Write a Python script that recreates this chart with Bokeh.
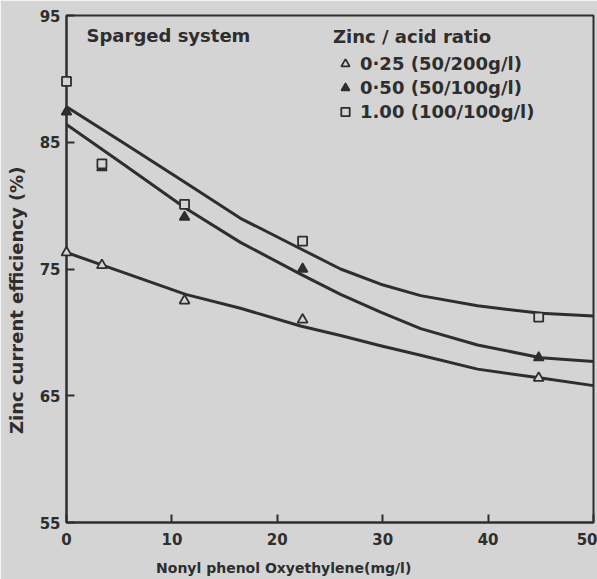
from bokeh.plotting import figure
from bokeh.models import Range1d, FixedTicker, Label, Legend, LegendItem
from bokeh.embed import file_html
from bokeh.resources import INLINE

# Measured points: Nonyl phenol Oxyethylene (mg/l) vs zinc current efficiency (%)
conc = [0, 3.36, 11.2, 22.4, 44.8]
eff_025 = [76.3, 75.3, 72.5, 71.0, 66.4]
eff_050 = [87.4, 83.0, 79.1, 75.0, 68.0]
eff_100 = [89.8, 83.3, 80.1, 77.2, 71.2]

# Fitted curves
curve_x = [0, 5.5, 11.3, 16.5, 22.2, 26.0, 29.8, 33.6, 39.0, 45.0, 50]
curve_025 = [76.3, 74.7, 73.0, 71.9, 70.5, 69.75, 68.95, 68.2, 67.1, 66.4, 65.8]
curve_050 = [86.4, 83.2, 79.8, 77.1, 74.6, 73.0, 71.6, 70.3, 69.0, 68.0, 67.7]
curve_100 = [87.8, 84.9, 81.8, 79.0, 76.6, 75.0, 73.8, 72.9, 72.1, 71.5, 71.3]

x_ticks = [0, 10, 20, 30, 40, 50]
y_ticks = [55, 65, 75, 85, 95]

labels = ["0·25 (50/200g/l)", "0·50 (50/100g/l)", "1.00 (100/100g/l)"]

INK = "#2e2e2e"
BG = "#d4d4d4"
FONT = "DejaVu Sans"
NB = "\u00a0"

p = figure(width=597, height=579, x_range=Range1d(0, 50), y_range=Range1d(55, 95),
           output_backend="svg", toolbar_location=None,
           min_border_left=66, min_border_right=4, min_border_top=15, min_border_bottom=57)
p.background_fill_color = BG
p.border_fill_color = BG
p.outline_line_color = INK
p.outline_line_width = 2
p.xgrid.visible = False
p.ygrid.visible = False

for ax in (p.xaxis[0], p.yaxis[0]):
    ax.axis_line_color = INK
    ax.axis_line_width = 2
    ax.major_tick_line_color = INK
    ax.major_tick_line_width = 2
    ax.major_tick_in = 8
    ax.major_tick_out = 0
    ax.minor_tick_line_color = None
    ax.major_label_text_font = FONT
    ax.major_label_text_font_style = "bold"
    ax.major_label_text_font_size = "15px"
    ax.major_label_text_color = INK
    ax.axis_label_text_font = FONT
    ax.axis_label_text_font_style = "bold"
    ax.axis_label_text_color = INK
p.xaxis.ticker = FixedTicker(ticks=x_ticks)
p.yaxis.ticker = FixedTicker(ticks=y_ticks)
p.xaxis.major_label_standoff = 10
p.yaxis.major_label_standoff = 6

# axis titles (non-breaking padding shifts them off the frame centre as in the original)
p.yaxis.axis_label = "Zinc current efficiency (%)" + NB * 10
p.yaxis.axis_label_text_font_size = "18px"
p.yaxis.axis_label_standoff = 10
p.xaxis.axis_label = "Nonyl phenol Oxyethylene(mg/l)" + NB * 19
p.xaxis.axis_label_text_font_size = "14px"
p.xaxis.axis_label_standoff = 12

for cy in (curve_025, curve_050, curve_100):
    p.line(curve_x, cy, line_color=INK, line_width=3, line_join="round")

r025 = p.scatter(conc, eff_025, marker="triangle", size=10, fill_color=BG, line_color=INK,
                 line_width=1.8, level="overlay")
r050 = p.scatter(conc, eff_050, marker="triangle", size=10, fill_color=INK, line_color=INK,
                 line_width=1.5, level="overlay")
r100 = p.scatter(conc, eff_100, marker="square", size=9, fill_color=BG, line_color=INK,
                 line_width=1.8, level="overlay")

legend = Legend(items=[LegendItem(label=labels[0], renderers=[r025]),
                       LegendItem(label=labels[1], renderers=[r050]),
                       LegendItem(label=labels[2], renderers=[r100])],
                title="Zinc / acid ratio", location=(263, 396),
                border_line_alpha=0, background_fill_alpha=0,
                label_text_font=FONT, label_text_font_style="bold", label_text_font_size="18px",
                label_text_color=INK,
                title_text_font=FONT, title_text_font_style="bold", title_text_font_size="18px",
                title_text_color=INK, glyph_width=24, glyph_height=21, label_height=21,
                label_standoff=3, spacing=3, padding=4, title_standoff=6)
p.add_layout(legend)

p.add_layout(Label(x=1.9, y=93.4, text="Sparged system", text_font=FONT, text_font_style="bold",
                   text_font_size="18px", text_color=INK, text_baseline="middle"))

open("out.html", "w").write(file_html(p, INLINE))
